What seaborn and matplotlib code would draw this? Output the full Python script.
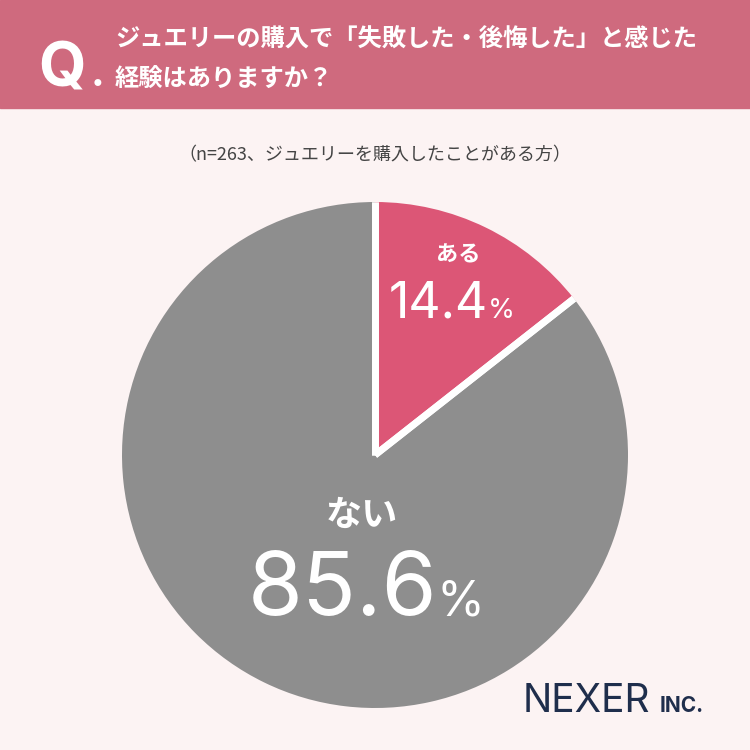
import matplotlib
matplotlib.use("Agg")
import matplotlib.pyplot as plt
import matplotlib.patches as mpatches
import numpy as np
import seaborn as sns

sns.set_theme(style="white")
plt.rcParams['font.family'] = ['Noto Sans CJK JP', 'DejaVu Sans']

labels = ["ある", "ない"]
values = [14.4, 85.6]
colors = ["#dc5676", "#8e8e8e"]

BG = "#fcf3f3"
HEADER = "#cf6a7e"

fig = plt.figure(figsize=(7.5, 7.5), dpi=100, facecolor=BG)

# header band
fig.patches.append(mpatches.Rectangle((0, 1 - 108 / 750), 1, 108 / 750,
                                      transform=fig.transFigure, color=HEADER, zorder=0))
fig.text(38 / 750, 1 - 86 / 750, "Q", color="white", fontsize=44, fontweight="bold",
         va="baseline", family=["Inter", "DejaVu Sans"])
fig.text(91 / 750, 1 - 86 / 750, ".", color="white", fontsize=30, fontweight="bold",
         va="baseline", family=["Inter", "DejaVu Sans"])
fig.text(115 / 750, 1 - 40 / 750, "ジュエリーの購入で「失敗した・後悔した」と感じた",
         color="white", fontsize=17.5, va="center", fontweight="bold")
fig.text(115 / 750, 1 - 80 / 750, "経験はありますか？",
         color="white", fontsize=17.5, va="center", fontweight="bold")

fig.text(0.5, 1 - 155 / 750, "（n=263、ジュエリーを購入したことがある方）",
         color="#444444", fontsize=13, ha="center", va="center")

# pie
cx, cy, r = 375 / 750, 1 - 455 / 750, 253 / 750
ax = fig.add_axes([cx - r, cy - r, 2 * r, 2 * r])
ax.set_facecolor("none")
wedges, _ = ax.pie(values, colors=colors, startangle=90, counterclock=False, radius=1,
                   wedgeprops=dict(linewidth=0))
# white separators between slices only
for w in wedges:
    for ang in (w.theta1, w.theta2):
        t = np.deg2rad(ang)
        ax.plot([0, np.cos(t)], [0, np.sin(t)], color="white", lw=5, solid_capstyle="butt")
ax.set_xlim(-1, 1)
ax.set_ylim(-1, 1)
ax.set_aspect("equal")
ax.axis("off")

def label(x, y, name, val, size, nsize, off):
    fig.text(x / 750, 1 - y[0] / 750, name, color="white", fontsize=nsize,
             ha="center", va="center", fontweight="bold")
    fig.text((x + off) / 750, 1 - y[1] / 750, f"{val}", color="white",
             fontsize=size, ha="right", va="baseline", family=["Inter", "DejaVu Sans"])
    fig.text((x + off) / 750, 1 - y[1] / 750, "%", color="white",
             fontsize=size * 0.55, ha="left", va="baseline", family=["Inter", "DejaVu Sans"])

label(458, (255, 318), labels[0], values[0], 36, 16, 30)
label(362, (515, 615), labels[1], values[1], 64, 26, 75)

fig.text(650 / 750, 1 - 712 / 750, "NEXER", color="#1f2e4c", fontsize=28,
         ha="right", va="baseline", family=["Inter", "DejaVu Sans"])
fig.text(660 / 750, 1 - 712 / 750, "INC.", color="#1f2e4c", fontsize=15,
         ha="left", va="baseline", fontweight="bold", family=["Inter", "DejaVu Sans"])

fig.savefig("out.png", dpi=100, facecolor=BG)
